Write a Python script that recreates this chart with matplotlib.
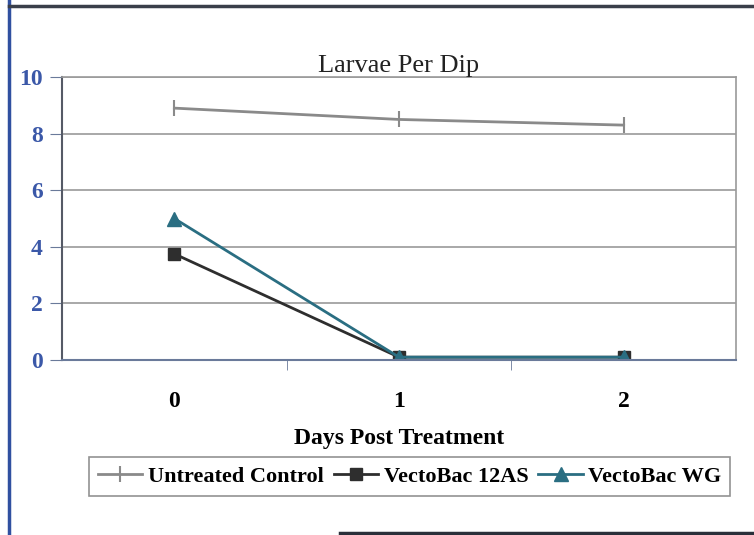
import numpy as np
import matplotlib
matplotlib.use("Agg")
import matplotlib.pyplot as plt
from matplotlib.lines import Line2D

days = ["0", "1", "2"]
control = [8.9, 8.5, 8.3]
as12 = [3.75, 0.1, 0.1]
wg = [5.0, 0.1, 0.1]
yticks = [0, 2, 4, 6, 8, 10]

plt.rcParams['font.family'] = ['Liberation Serif', 'DejaVu Serif']

W, H = 754, 535
fig = plt.figure(figsize=(W / 100, H / 100), dpi=100)
fig.patch.set_facecolor('white')

# plot area in pixels: left 62, right 736, top 77, bottom 360
ax = fig.add_axes([62 / W, 1 - 360 / H, (736 - 62) / W, (360 - 77) / H])

x = np.arange(len(days))
ax.plot(x, control, color='#8a8a8a', lw=2, marker='|', ms=12, mew=1.5,
        label='Untreated Control')
ax.plot(x, as12, color='#2e2e2e', lw=2, marker='s', ms=9,
        label='VectoBac 12AS')
ax.plot(x, wg, color='#2a6e82', lw=2, marker='^', ms=10,
        label='VectoBac WG')

ax.set_xlim(-0.5, 2.5)
ax.set_ylim(0, 10)
ax.set_yticks(yticks)
ax.set_yticklabels([str(v) for v in yticks], fontsize=17, fontweight='bold',
                   color='#3b58a8')
ax.yaxis.grid(True, color='#9a9a9a', lw=1.2)
ax.set_axisbelow(True)

ax.set_xticks(x)
ax.set_xticklabels(days, fontsize=17, fontweight='bold')
ax.set_xticks([0.5, 1.5], minor=True)
ax.tick_params(axis='x', which='major', length=0, pad=22)
ax.tick_params(axis='x', which='minor', length=7, color='#6a7a9a', direction='out')
ax.tick_params(axis='y', length=9, color='#6a7a9a', direction='out', pad=5)

for s in ['top', 'right']:
    ax.spines[s].set_color('#9a9a9a')
    ax.spines[s].set_linewidth(1.2)
ax.spines['left'].set_color('#555a66')
ax.spines['left'].set_linewidth(1.5)
ax.spines['bottom'].set_color('#6a7a9a')
ax.spines['bottom'].set_linewidth(1.5)

ax.set_title('Larvae Per Dip', fontsize=19, pad=3, color='#222222')
ax.set_xlabel('Days Post Treatment', fontsize=17, fontweight='bold', labelpad=12)

leg = ax.legend(loc='upper center', bbox_to_anchor=(0.516, -0.305), ncol=3,
                frameon=True, fancybox=False, edgecolor='#777777',
                prop={'size': 16, 'weight': 'bold'}, handlelength=2.0,
                columnspacing=0.45, handletextpad=0.25, borderpad=0.4)
leg.get_frame().set_linewidth(1.2)

# edges of the scanned page frame
def px_line(xs, ys, color, lw):
    fig.lines.append(Line2D([v / W for v in xs], [1 - v / H for v in ys],
                            transform=fig.transFigure, color=color, lw=lw))

px_line([9, 9], [0, 535], '#3050a0', 2.5)
px_line([9, 754], [6, 6], '#3a3f4a', 2.5)
px_line([340, 754], [533, 533], '#2a2f3a', 2.5)

fig.savefig('out.png', dpi=100)
